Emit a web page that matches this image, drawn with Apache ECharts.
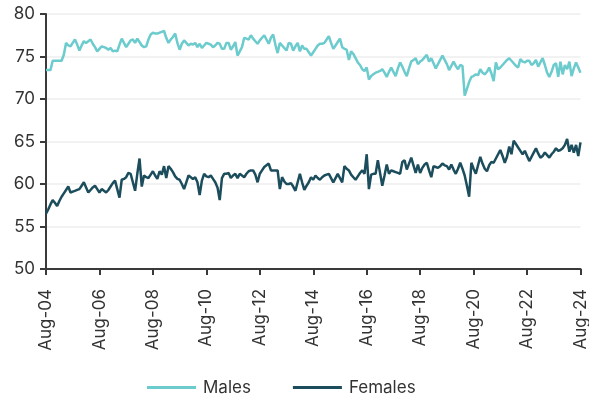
<!DOCTYPE html>
<html>
<head>
<meta charset="utf-8">
<script src="https://cdn.jsdelivr.net/npm/echarts@6/dist/echarts.min.js"></script>
<style>html,body{margin:0;padding:0;background:#fff}#c{width:589px;height:396px}</style>
</head>
<body>
<div id="c"></div>
<script>
const monthNames = ['Jan','Feb','Mar','Apr','May','Jun','Jul','Aug','Sep','Oct','Nov','Dec'];
const startYear = 2004, startMonth = 7, monthCount = 241;
const categories = [];
for (let i = 0; i < monthCount; i++) {
  const t = startMonth + i;
  const y = startYear + Math.floor(t / 12);
  categories.push(monthNames[t % 12] + '-' + String(y % 100).padStart(2, '0'));
}
const yTicks = [50, 55, 60, 65, 70, 75, 80];

const males = [
73.4,73.4,73.4,74.5,74.5,74.5,74.5,74.5,75.2,76.6,76.3,76.2,
76.6,77.0,76.4,75.7,76.3,76.8,76.6,76.8,77.0,76.5,76.1,75.6,
75.9,76.2,76.1,76.0,75.8,76.0,75.6,75.7,75.6,76.4,77.1,76.6,
76.1,76.5,76.9,77.0,76.6,77.1,76.7,76.3,76.1,76.2,77.0,77.6,
77.8,77.7,77.7,77.8,77.9,78.0,77.2,76.6,77.0,77.3,77.7,76.6,
75.8,76.5,76.9,76.6,76.3,76.5,76.4,76.6,76.1,76.5,76.0,76.3,
76.6,76.5,76.4,76.1,76.3,76.6,76.5,75.9,75.9,76.6,76.6,75.8,
76.2,76.7,75.1,75.6,76.1,77.2,77.1,77.0,77.5,77.1,76.8,76.5,
76.9,77.2,77.5,77.0,76.5,77.2,77.6,76.4,75.4,76.6,76.3,76.0,
75.7,76.6,76.5,75.7,76.2,76.6,75.6,76.3,75.9,75.9,75.5,75.1,
75.5,75.9,76.3,76.5,76.5,76.6,77.0,77.4,76.6,75.9,76.3,76.7,
77.1,76.1,75.9,75.8,74.6,75.6,75.3,74.8,74.3,74.0,73.5,73.3,
73.7,72.3,72.7,72.9,73.1,73.2,73.3,73.5,73.1,72.6,73.2,73.7,
73.2,72.7,73.6,74.3,73.8,73.2,72.7,73.6,74.4,74.6,74.8,74.1,
74.4,74.6,74.9,75.2,74.4,74.8,74.2,73.6,74.1,74.6,75.1,74.6,
74.1,73.4,73.9,74.4,73.9,73.5,74.0,73.9,70.4,71.2,72.0,72.6,
72.7,72.9,72.8,73.5,73.1,72.9,73.2,73.7,73.0,72.1,74.3,73.5,
73.7,74.0,74.3,74.6,74.8,74.5,74.2,73.9,73.7,74.7,74.4,74.3,
74.5,74.5,74.0,74.2,74.6,73.8,74.3,74.8,74.0,73.1,72.6,73.2,
74.0,74.2,72.6,74.4,72.9,74.0,73.5,74.4,72.7,73.6,74.3,73.7,
73.1
];

const females = [
56.5,57.0,57.6,58.1,57.8,57.4,58.0,58.5,58.9,59.3,59.7,59.0,
59.1,59.2,59.3,59.4,59.8,60.2,59.6,59.0,59.3,59.6,59.8,59.4,
59.0,59.4,59.2,59.0,59.3,59.7,60.1,60.4,59.4,58.4,60.5,60.6,
60.8,61.3,61.2,60.2,59.2,61.2,63.0,59.7,61.0,60.8,60.7,61.1,
61.5,61.0,60.6,61.5,61.1,62.1,60.7,62.1,61.8,61.4,60.9,60.6,
60.5,60.0,59.4,60.2,61.0,60.8,60.6,60.8,60.2,58.7,60.4,61.2,
60.9,60.8,61.0,60.6,60.2,59.6,58.1,60.7,61.2,61.2,61.3,60.7,
61.0,61.2,60.7,61.2,61.0,60.8,61.2,61.5,61.6,61.6,61.1,60.2,
61.2,61.6,62.0,62.2,62.4,61.6,61.6,61.6,61.6,59.4,60.8,60.3,
60.0,60.0,60.1,59.7,59.2,60.2,61.2,60.2,59.3,59.8,60.2,60.8,
60.5,61.0,60.7,60.5,60.8,61.0,61.1,61.2,60.7,60.2,60.7,61.2,
60.7,60.2,62.1,61.8,61.6,61.1,60.8,60.5,60.9,61.3,61.6,61.2,
63.5,59.4,61.1,61.2,61.2,62.8,61.3,59.8,61.0,62.3,61.2,61.6,
61.5,61.4,61.3,61.2,62.6,62.8,61.7,62.4,63.1,62.2,61.3,62.3,
61.3,61.9,62.3,62.5,61.6,60.8,62.1,62.0,61.9,62.1,62.4,62.2,
62.1,61.7,62.3,61.7,61.2,61.8,62.5,61.8,61.0,59.8,58.5,62.5,
61.8,61.2,62.2,63.2,62.4,61.8,61.5,62.2,62.6,62.5,63.0,63.5,
64.0,63.3,62.5,63.2,64.4,63.5,65.1,64.7,64.3,63.9,63.5,63.9,
63.3,62.7,63.2,63.7,64.2,63.6,63.1,63.3,63.7,63.4,63.1,63.5,
63.8,64.2,63.9,64.0,64.2,64.6,65.3,63.8,64.6,63.7,64.6,63.3,
64.9
];

const FONT = 'Inter, "Noto Sans", sans-serif';
const chart = echarts.init(document.getElementById('c'), null, {renderer: 'canvas'});
chart.setOption({
  animation: false,
  backgroundColor: '#ffffff',
  grid: {left: 46, right: 8, top: 14, bottom: 127, containLabel: false},
  legend: {
    top: 374,
    left: 142,
    itemWidth: 49,
    itemHeight: 3,
    itemGap: 42,
    icon: 'rect',
    textStyle: {fontFamily: FONT, fontSize: 17, color: '#333333', padding: [0, 0, 0, 2]},
    data: ['Males', 'Females']
  },
  xAxis: {
    type: 'category',
    data: categories,
    boundaryGap: false,
    axisLine: {lineStyle: {color: '#3a3a3a', width: 2}},
    axisTick: {show: true, interval: 23, length: 6, lineStyle: {color: '#3a3a3a', width: 2}},
    axisLabel: {interval: 23, rotate: 90, margin: 20, fontFamily: FONT, fontSize: 17, color: '#333333'},
    splitLine: {show: false}
  },
  yAxis: {
    type: 'value',
    min: yTicks[0],
    max: yTicks[yTicks.length - 1],
    interval: 5,
    axisLine: {show: true, lineStyle: {color: '#3a3a3a', width: 2}},
    axisTick: {show: true, length: 6, lineStyle: {color: '#3a3a3a', width: 2}},
    axisLabel: {margin: 11, fontFamily: FONT, fontSize: 17, color: '#333333'},
    splitLine: {show: true, lineStyle: {color: '#eeeeee', width: 1.5}}
  },
  series: [
    {name: 'Males', type: 'line', data: males, symbol: 'none', lineStyle: {color: '#6ccbcd', width: 2.5}, itemStyle: {color: '#6ccbcd'}},
    {name: 'Females', type: 'line', data: females, symbol: 'none', lineStyle: {color: '#1b4d5c', width: 2.5}, itemStyle: {color: '#1b4d5c'}}
  ]
});
</script>
</body>
</html>
